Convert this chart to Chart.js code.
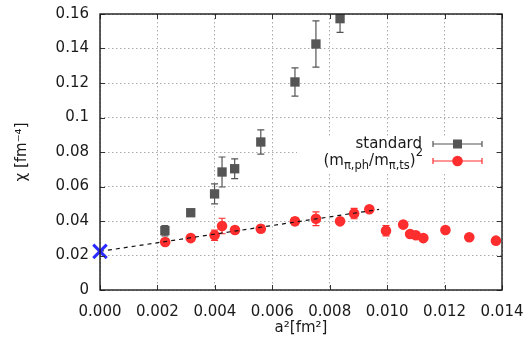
<!DOCTYPE html>
<html><head><meta charset="utf-8">
<script src="https://cdn.jsdelivr.net/npm/chart.js@4/dist/chart.umd.min.js"></script>
<style>html,body{margin:0;padding:0;background:#fff;overflow:hidden}#wrap{width:525px;height:345px;position:relative}</style>
</head><body><div id="wrap"><canvas id="c" width="525" height="345"></canvas></div>
<script>
// ---- data ----
const xTicks = [0, 0.002, 0.004, 0.006, 0.008, 0.010, 0.012, 0.014];
const yTicks = [0, 0.02, 0.04, 0.06, 0.08, 0.1, 0.12, 0.14, 0.16];

const stdX   = [0.00226, 0.00316, 0.00399, 0.00425, 0.00469, 0.0056, 0.00679, 0.00752, 0.00836];
const stdY   = [0.0344, 0.0448, 0.0557, 0.0684, 0.0703, 0.0858, 0.1206, 0.1426, 0.1573];
const stdErr = [0.0030, 0.0012, 0.0058, 0.0087, 0.0057, 0.0070, 0.0082, 0.0134, 0.0080];

const ratioX   = [0.00227, 0.00316, 0.00399, 0.00425, 0.0047, 0.0056, 0.00679, 0.00752, 0.00836, 0.00885, 0.00938, 0.00996, 0.01056, 0.0108, 0.0110, 0.01126, 0.01203, 0.01286, 0.01379];
const ratioY   = [0.0278, 0.0301, 0.0317, 0.0371, 0.0348, 0.0355, 0.0398, 0.0413, 0.0398, 0.0443, 0.0468, 0.0344, 0.0379, 0.0325, 0.0317, 0.0301, 0.0348, 0.0306, 0.0286];
const ratioErr = [0.0020, 0.0012, 0.0030, 0.0045, 0.0020, 0.0020, 0.0020, 0.0040, 0.0015, 0.0030, 0.0015, 0.0030, 0.0015, 0.0015, 0.0015, 0.0015, 0.0015, 0.0015, 0.0015];

const fitX = [0, 0.00972];
const fitY = [0.0224, 0.0467];

const extrapX = [0];
const extrapY = [0.0224];

const seriesNames = ['standard', 'ratio'];
const xTitle = 'a\u00B2[fm\u00B2]';
const yTitle = '\u03C7 [fm\u207B\u2074]';

// ---- chart ----
const FONT = 'DejaVu Sans';
Chart.defaults.font.family = FONT;
Chart.defaults.font.size = 15;
Chart.defaults.color = '#1a1a1a';

const GRAY = '#555555', RED = '#ff2e2e', BLUE = '#2b2bff';

const pts = (xs, ys) => xs.map((x, i) => ({x: x, y: ys[i]}));

const errorBars = {
  id: 'errorBars',
  beforeDatasetDraw(chart, args) {
    const ds = chart.data.datasets[args.index];
    if (!ds.errors) return;
    const {ctx, chartArea: a} = chart;
    const xs = chart.scales.x, ys = chart.scales.y;
    ctx.save();
    ctx.beginPath(); ctx.rect(a.left, a.top, a.right - a.left, a.bottom - a.top); ctx.clip();
    ctx.strokeStyle = ds.borderColor; ctx.lineWidth = 1.2;
    ds.data.forEach((p, i) => {
      const e = ds.errors[i];
      const px = xs.getPixelForValue(p.x);
      const y1 = ys.getPixelForValue(p.y - e), y2 = ys.getPixelForValue(p.y + e);
      ctx.beginPath();
      ctx.moveTo(px, y1); ctx.lineTo(px, y2);
      ctx.moveTo(px - 3.5, y1); ctx.lineTo(px + 3.5, y1);
      ctx.moveTo(px - 3.5, y2); ctx.lineTo(px + 3.5, y2);
      ctx.stroke();
    });
    ctx.restore();
  }
};

const frame = {
  id: 'frame',
  afterDraw(chart) {
    const {ctx, chartArea: a} = chart;
    const xs = chart.scales.x, ys = chart.scales.y;
    ctx.save();
    // legend (opaque key)
    ctx.fillStyle = '#fff';
    ctx.fillRect(297, 136, 197, 37);
    const rows = [
      {y: 144, color: GRAY, marker: 'rect'},
      {y: 161, color: RED, marker: 'circle'}
    ];
    rows.forEach(r => {
      ctx.strokeStyle = r.color; ctx.lineWidth = 1.2;
      ctx.beginPath();
      ctx.moveTo(433, r.y); ctx.lineTo(482, r.y);
      ctx.moveTo(433, r.y - 3); ctx.lineTo(433, r.y + 3);
      ctx.moveTo(482, r.y - 3); ctx.lineTo(482, r.y + 3);
      ctx.stroke();
      ctx.fillStyle = r.color;
      if (r.marker === 'rect') ctx.fillRect(453, r.y - 4.5, 9, 9);
      else { ctx.beginPath(); ctx.arc(457.5, r.y, 5.3, 0, Math.PI * 2); ctx.fill(); }
    });
    ctx.fillStyle = '#1a1a1a';
    ctx.textBaseline = 'middle';
    ctx.textAlign = 'right';
    ctx.font = '15px "' + FONT + '"';
    ctx.fillText(seriesNames[0], 422, 144);
    // composite label (m_{π,ph}/m_{π,ts})^2
    const parts = [
      {t: '(m', s: 15, dy: 0}, {t: '\u03C0,ph', s: 11.5, dy: 5},
      {t: '/m', s: 15, dy: 0}, {t: '\u03C0,ts', s: 11.5, dy: 5},
      {t: ')', s: 15, dy: 0}, {t: '2', s: 11.5, dy: -8}
    ];
    ctx.textAlign = 'left';
    let w = 0;
    parts.forEach(p => { ctx.font = p.s + 'px "' + FONT + '"'; p.w = ctx.measureText(p.t).width; w += p.w; });
    let x = 423 - w;
    parts.forEach(p => { ctx.font = p.s + 'px "' + FONT + '"'; ctx.fillText(p.t, x, 161 + p.dy); x += p.w; });

    // mirrored inward ticks
    ctx.strokeStyle = '#333'; ctx.lineWidth = 1;
    ctx.beginPath();
    xTicks.forEach(v => {
      const px = Math.round(xs.getPixelForValue(v)) + 0.5;
      ctx.moveTo(px, a.bottom); ctx.lineTo(px, a.bottom - 5);
      ctx.moveTo(px, a.top); ctx.lineTo(px, a.top + 5);
    });
    yTicks.forEach(v => {
      const py = Math.round(ys.getPixelForValue(v)) + 0.5;
      ctx.moveTo(a.left, py); ctx.lineTo(a.left + 5, py);
      ctx.moveTo(a.right, py); ctx.lineTo(a.right - 5, py);
    });
    ctx.stroke();
    // border
    ctx.strokeStyle = '#1a1a1a'; ctx.lineWidth = 1.4;
    ctx.strokeRect(a.left, a.top, a.right - a.left, a.bottom - a.top);
    ctx.restore();
  }
};

new Chart(document.getElementById('c'), {
  type: 'scatter',
  data: {
    datasets: [
      {label: seriesNames[0], data: pts(stdX, stdY), errors: stdErr, order: 4,
       pointStyle: 'rect', pointRadius: 6.6, backgroundColor: GRAY, borderColor: GRAY, borderWidth: 0},
      {label: seriesNames[1], data: pts(ratioX, ratioY), errors: ratioErr, order: 3,
       pointStyle: 'circle', pointRadius: 5.3, backgroundColor: RED, borderColor: RED, borderWidth: 0},
      {label: 'fit', type: 'line', data: pts(fitX, fitY), order: 2,
       borderColor: '#111', borderWidth: 1.2, borderDash: [4, 4], pointRadius: 0, fill: false},
      {label: 'extrapolation', data: pts(extrapX, extrapY), order: 1, clip: false,
       pointStyle: 'crossRot', pointRadius: 9.5, borderColor: BLUE, borderWidth: 3, backgroundColor: BLUE}
    ]
  },
  options: {
    responsive: false,
    animation: false,
    devicePixelRatio: 1,
    layout: {padding: {left: 0, right: 23, top: 14, bottom: 0}},
    plugins: {legend: {display: false}, tooltip: {enabled: false}},
    scales: {
      x: {
        type: 'linear', min: 0, max: 0.014,
        afterBuildTicks: s => { s.ticks = xTicks.map(v => ({value: v})); },
        afterFit: s => { s.height = 55; s.paddingLeft = 0; s.paddingRight = 0; },
        ticks: {callback: v => v.toFixed(3), padding: 13, maxRotation: 0, autoSkip: false, color: '#1a1a1a'},
        grid: {color: '#aaaaaa', lineWidth: 1, drawTicks: false},
        border: {display: false, dash: [1.5, 2.5]},
        title: {display: true, text: xTitle, padding: {top: 0, bottom: 8}, color: '#1a1a1a', font: {size: 15}}
      },
      y: {
        type: 'linear', min: 0, max: 0.16,
        afterBuildTicks: s => { s.ticks = yTicks.map(v => ({value: v})); },
        afterFit: s => { s.width = 100; s.paddingTop = 0; s.paddingBottom = 0; },
        ticks: {callback: v => parseFloat(v.toFixed(2)).toString(), padding: 11, autoSkip: false, color: '#1a1a1a'},
        grid: {color: '#aaaaaa', lineWidth: 1, drawTicks: false},
        border: {display: false, dash: [1.5, 2.5]},
        title: {display: true, text: yTitle, padding: {top: 13, bottom: 0}, color: '#1a1a1a', font: {size: 15}}
      }
    }
  },
  plugins: [errorBars, frame]
});
</script>
</body></html>
